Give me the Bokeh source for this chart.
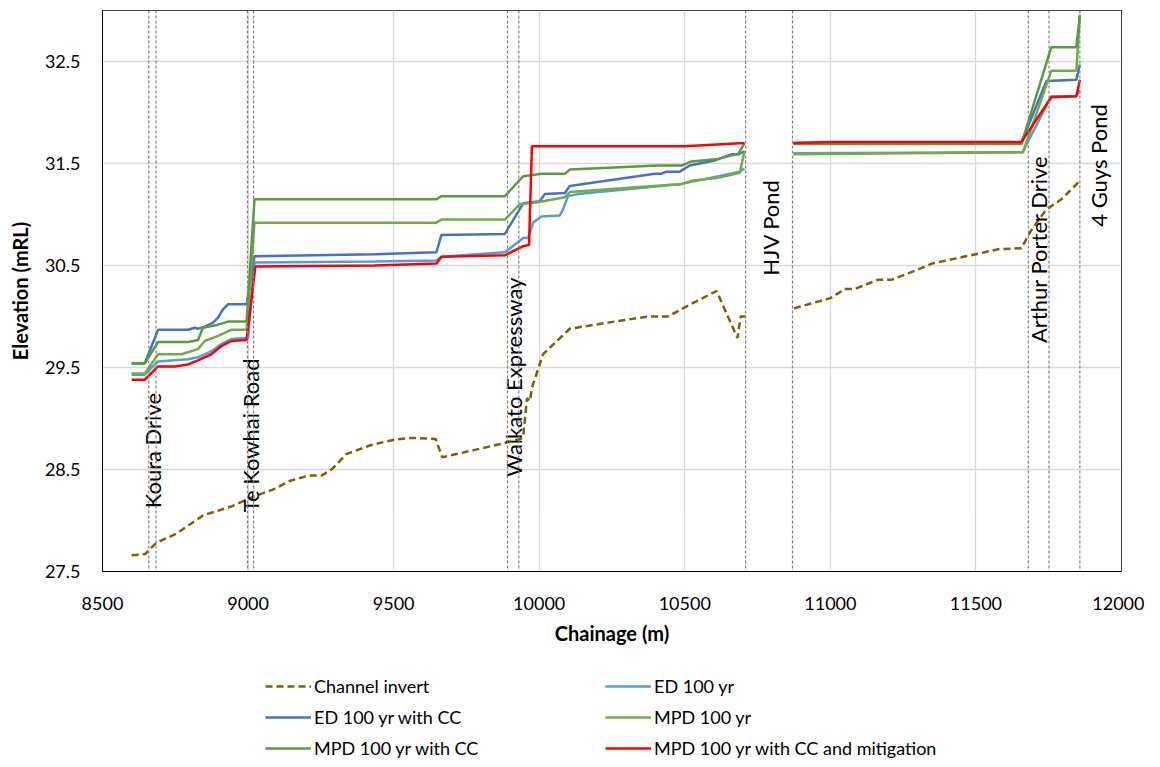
import math
import numpy as np
from bokeh.plotting import figure
from bokeh.layouts import column
from bokeh.models import Range1d, FixedTicker, Span, Legend, LegendItem
from bokeh.core.properties import value
from bokeh.embed import file_html
from bokeh.resources import INLINE

NAN = float("nan")

# ---------------- data ----------------
invert_ch = [8600, 8646, 8684, 8753, 8846, 8945, 9007, 9091, 9145, 9207, 9253, 9291, 9337, 9422,
             9498, 9560, 9644, 9667, 9775, 9867, 9936, 9945, 9958, 9968, 9975, 10013, 10105, 10236,
             10374, 10443, 10500, 10609, 10681, 10692, 10710, 10790, 10875, 11000, 11050, 11084,
             11164, 11210, 11301, 11350, 11450, 11530, 11576, 11656, 11691, 11742, 11794, 11857]
invert_el = [27.66, 27.67, 27.78, 27.87, 28.05, 28.14, 28.22, 28.31, 28.39, 28.44, 28.44, 28.51,
             28.65, 28.74, 28.79, 28.81, 28.80, 28.62, 28.69, 28.75, 28.80, 28.82, 29.20, 29.17,
             29.30, 29.63, 29.88, 29.94, 30.00, 30.00, 30.09, 30.25, 29.79, 30.00, 30.00, NAN,
             30.08, 30.18, 30.27, 30.27, 30.36, 30.36, 30.46, 30.52, 30.58, 30.63, 30.66, 30.67,
             30.85, 31.05, 31.15, 31.33]

ed_ch = [8600, 8645, 8691, 8794, 8828, 8874, 8908, 8943, 8989, 9000, 9022, 9435, 9647, 9664,
         9882, 9945, 9962, 9979, 10007, 10070, 10082, 10099, 10133, 10489, 10689, 10705, 10790,
         10873, 11660, 11759, 11845, 11857]
ed_el = [29.43, 29.43, 29.56, 29.58, 29.60, 29.66, 29.73, 29.78, 29.79, 29.79, 30.53, 30.54,
         30.55, 30.585, 30.63, 30.77, 30.77, 30.92, 30.98, 30.99, 31.05, 31.18, 31.20, 31.30,
         31.42, 31.45, NAN, 31.60, 31.61, 32.16, 32.16, 32.22]

edcc_ch = [8600, 8645, 8691, 8794, 8817, 8828, 8851, 8880, 8897, 8914, 8931, 8995, 9022, 9435,
           9647, 9664, 9882, 9945, 10002, 10019, 10088, 10105, 10397, 10420, 10437, 10483, 10517,
           10603, 10660, 10683, 10705, 10790, 10873, 11656, 11742, 11845, 11857]
edcc_el = [29.54, 29.54, 29.87, 29.87, 29.89, 29.88, 29.90, 29.94, 29.99, 30.07, 30.12, 30.12,
           30.59, 30.61, 30.63, 30.80, 30.81, 31.11, 31.13, 31.20, 31.21, 31.28, 31.40, 31.40,
           31.42, 31.42, 31.48, 31.53, 31.59, 31.59, 31.62, NAN, 31.70, 31.70, 32.31, 32.32, 32.47]

mpd_ch = [8600, 8645, 8691, 8771, 8828, 8851, 8897, 8943, 8995, 9022, 9647, 9664, 9882, 9933,
          9996, 10088, 10105, 10489, 10523, 10615, 10689, 10705, 10790, 10873, 11662, 11759,
          11845, 11857]
mpd_el = [29.44, 29.44, 29.63, 29.63, 29.68, 29.76, 29.81, 29.87, 29.87, 30.92, 30.92, 30.95,
          30.95, 31.10, 31.12, 31.17, 31.22, 31.30, 31.33, 31.36, 31.41, 31.62, NAN, 31.59,
          31.61, 32.41, 32.41, 32.95]

mpdcc_ch = [8600, 8645, 8691, 8794, 8828, 8845, 8897, 8931, 8995, 9022, 9647, 9664, 9882, 9945,
            10007, 10088, 10105, 10409, 10489, 10523, 10615, 10660, 10683, 10705, 10790, 10873,
            11656, 11759, 11845, 11857]
mpdcc_el = [29.54, 29.54, 29.75, 29.75, 29.77, 29.89, 29.92, 29.95, 29.95, 31.15, 31.15, 31.18,
            31.18, 31.375, 31.40, 31.40, 31.44, 31.48, 31.48, 31.52, 31.545, 31.58, 31.59, 31.70,
            NAN, 31.69, 31.69, 32.64, 32.64, 32.96]

mit_ch = [8600, 8645, 8691, 8748, 8771, 8794, 8828, 8874, 8908, 8943, 8995, 9025, 9435, 9647,
          9664, 9882, 9945, 9965, 9975, 10500, 10705, 10790, 10873, 11000, 11656, 11759, 11845,
          11857]
mit_el = [29.38, 29.38, 29.51, 29.51, 29.52, 29.53, 29.57, 29.63, 29.71, 29.76, 29.77, 30.49,
          30.50, 30.52, 30.585, 30.60, 30.69, 30.70, 31.67, 31.67, 31.70, NAN, 31.70, 31.71,
          31.71, 32.15, 32.16, 32.32]

structure_lines = [8659, 8684, 8998, 9019, 9891, 9930, 10709, 10870, 11680, 11751, 11857]
structure_names = ["Koura Drive", "Te Kowhai Road", "Waikato Expressway", "HJV Pond",
                   "Arthur Porter Drive", "4 Guys Pond"]
label_ch = [8673, 9007, 9910, 10794, 11716, 11920]
label_base = [28.12, 28.08, 28.43, 30.40, 29.74, 30.88]

x_ticks = [8500, 9000, 9500, 10000, 10500, 11000, 11500, 12000]
y_ticks = [27.5, 28.5, 29.5, 30.5, 31.5, 32.5]

series_names = ["Channel invert", "ED 100 yr", "ED 100 yr with CC", "MPD 100 yr",
                "MPD 100 yr with CC", "MPD 100 yr with CC and mitigation"]
series_colors = ["#7F6000", "#5B9BD5", "#4472C4", "#70AD47", "#5B9B3D", "#FF0000"]
series_dash = ["7 4", "solid", "solid", "solid", "solid", "solid"]

# ---------------- main figure ----------------
FONT = "Lato"
p = figure(frame_width=1019, frame_height=561, output_backend="svg", toolbar_location=None,
           x_range=Range1d(8500, 12000), y_range=Range1d(27.5, 33.0),
           min_border_left=102, min_border_right=23, min_border_top=10, min_border_bottom=84)
p.background_fill_color = "white"
p.border_fill_color = "white"
p.outline_line_color = "#404040"
p.outline_line_width = 1

p.xaxis.ticker = FixedTicker(ticks=x_ticks)
p.yaxis.ticker = FixedTicker(ticks=y_ticks)
p.yaxis.formatter.use_scientific = False
for ax in (p.xaxis, p.yaxis):
    ax.major_tick_out = 0
    ax.major_tick_in = 0
    ax.minor_tick_out = 0
    ax.minor_tick_in = 0
    ax.axis_line_color = "black"
    ax.major_label_text_font = FONT
    ax.major_label_text_font_size = "18px"
    ax.major_label_text_color = "black"
    ax.axis_label_text_font = FONT
    ax.axis_label_text_font_size = "20px"
    ax.axis_label_text_font_style = "bold"
    ax.axis_label_text_color = "black"
p.xaxis.axis_label = "Chainage (m)"
p.yaxis.axis_label = "Elevation (mRL)"
p.xaxis.major_label_standoff = 25
p.xaxis.axis_label_standoff = 8
p.yaxis.major_label_standoff = 22
p.yaxis.axis_label_standoff = 10

p.xgrid.grid_line_color = "#D9D9D9"
p.ygrid.grid_line_color = "#D9D9D9"
p.xgrid.grid_line_width = 1.3
p.ygrid.grid_line_width = 1.3

for c in structure_lines:
    p.add_layout(Span(location=c, dimension="height", line_color="#808080",
                      line_width=1.2, line_dash="3 2"))

def arr(v):
    return np.array(v, dtype=float)

series_x = [invert_ch, ed_ch, edcc_ch, mpd_ch, mpdcc_ch, mit_ch]
series_y = [invert_el, ed_el, edcc_el, mpd_el, mpdcc_el, mit_el]
for xs, ys, col, dash in zip(series_x, series_y, series_colors, series_dash):
    p.line(arr(xs), arr(ys), line_color=col, line_width=2.5, line_dash=dash)

p.text(x=label_ch, y=label_base, text=structure_names, angle=math.pi / 2,
       text_font=value(FONT), text_font_size="22px", text_align="left",
       text_baseline="middle", text_color="black")

# ---------------- legend strip (same series, drawn outside its own view) ----------------
leg = figure(width=1144, height=103, output_backend="svg", toolbar_location=None,
             x_range=Range1d(0, 1), y_range=Range1d(0, 1), x_axis_type=None, y_axis_type=None,
             min_border_left=0, min_border_right=0, min_border_top=0, min_border_bottom=0)
leg.outline_line_color = None
leg.xgrid.visible = False
leg.ygrid.visible = False
items = []
for name, xs, ys, col, dash in zip(series_names, series_x, series_y, series_colors, series_dash):
    r = leg.line(arr(xs), arr(ys), line_color=col, line_width=2.5, line_dash=dash)
    items.append(LegendItem(label=name, renderers=[r]))
legend = Legend(items=items, orientation="horizontal", ncols=2, location=(163, -1),
                glyph_width=46, glyph_height=20, label_height=20, label_width=282,
                label_standoff=3, spacing=9, padding=0, margin=0,
                label_text_font=FONT, label_text_font_size="18px", label_text_color="black",
                border_line_color=None, background_fill_alpha=0)
leg.add_layout(legend, "center")

layout = column(p, leg, spacing=0)
open("out.html", "w").write(file_html(layout, INLINE))
